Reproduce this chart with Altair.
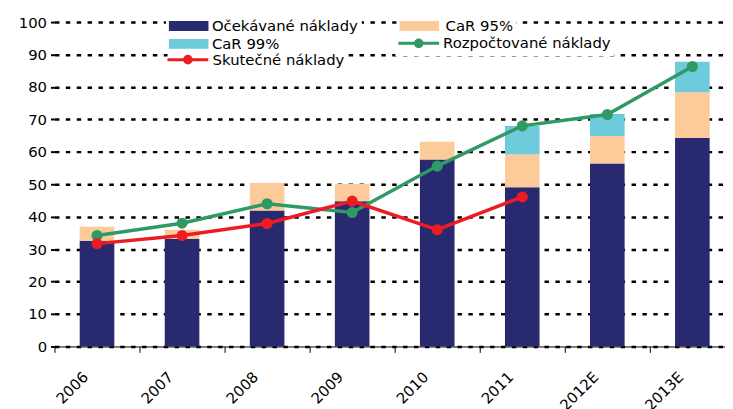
import altair as alt
import pandas as pd

# ---- data ----
years = ["2006", "2007", "2008", "2009", "2010", "2011", "2012E", "2013E"]
expected = [32.6, 33.2, 41.9, 44.8, 57.6, 49.1, 56.4, 64.3]      # Očekávané náklady
car95_top = [36.9, 36.0, 50.4, 50.1, 63.1, 59.2, 64.9, 78.4]     # top of CaR 95% segment
car99_top = [36.9, 36.0, 50.4, 50.1, 63.1, 68.0, 71.7, 87.8]     # top of CaR 99% segment
budget = [34.2, 38.0, 44.0, 41.3, 55.6, 68.0, 71.5, 86.3]        # Rozpočtované náklady
actual_years = ["2006", "2007", "2008", "2009", "2010", "2011"]
actual = [31.7, 34.2, 37.9, 44.8, 36.0, 46.1]                    # Skutečné náklady

names = ["Očekávané náklady", "CaR 95%", "CaR 99%", "Rozpočtované náklady", "Skutečné náklady"]
colors = ["#29296f", "#fdcb99", "#6dcbdc", "#2f9a66", "#ed1c24"]
y_ticks = list(range(0, 101, 10))

FONT = "DejaVu Sans"

seg_expected = pd.DataFrame({"year": years, "start": [0] * len(years), "end": expected, "series": names[0]})
seg_95 = pd.DataFrame({"year": years, "start": expected, "end": car95_top, "series": names[1]})
seg_99 = pd.DataFrame({"year": years, "start": car95_top, "end": car99_top, "series": names[2]})
df_budget = pd.DataFrame({"year": years, "value": budget, "series": names[3]})
df_actual = pd.DataFrame({"year": actual_years, "value": actual, "series": names[4]})

x_axis = alt.Axis(
    title=None, bandPosition=0, domain=True, domainColor="black", domainWidth=1,
    ticks=True, tickColor="black", tickSize=6, tickWidth=1,
    labelAngle=-45, labelAlign="right", labelBaseline="middle",
    labelOffset=-11.5, labelPadding=22, labelFontSize=15, labelFont=FONT,
    labelColor="black", grid=False,
)
y_axis = alt.Axis(
    title=None, values=y_ticks, domain=False, ticks=True, tickColor="black",
    tickSize=4, tickWidth=2, labelPadding=4, labelFontSize=15, labelFont=FONT,
    labelColor="black", grid=True, gridColor="black", gridDash=[4.5, 6.5], gridWidth=2.5,
)
x_enc = alt.X("year:N", sort=years, scale=alt.Scale(domain=years, paddingInner=0, paddingOuter=0), axis=x_axis)
y_scale = alt.Scale(domain=[0, 100], nice=False)

# legend symbols (unit = 7.5 px with symbolSize 225)
RECT = "M-2.667,-0.667H2.667V0.667H-2.667Z"
LINE_DOT = "M-2.75,0H2.75M-0.45,0A0.45,0.45 0 1,1 0.45,0A0.45,0.45 0 1,1 -0.45,0Z"
NB = "\u00a0"


def legend(x, y, path, sw, soff, loff, pad, col=None, fill=True, extra=0):
    kw = dict(
        orient="none", legendX=x, legendY=y, title=None, symbolType=path,
        symbolSize=225, symbolStrokeWidth=sw, symbolOffset=soff, labelOffset=loff,
        labelFontSize=15, labelFont=FONT, labelColor="black", labelLimit=600,
        padding=pad, symbolOpacity=1,
    )
    if fill:
        kw["fillColor"] = "white"
    if extra:
        kw["labelExpr"] = "datum.label + '" + NB * extra + "'"
    if col is not None:
        kw["symbolFillColor"] = col
        kw["symbolStrokeColor"] = col
    return alt.Legend(**kw)


def bar_layer(df, i, leg):
    return alt.Chart(df).mark_bar(size=35).encode(
        x=x_enc,
        y=alt.Y("start:Q", scale=y_scale, axis=y_axis),
        y2="end:Q",
        color=alt.Color("series:N", scale=alt.Scale(domain=[names[i]], range=[colors[i]]), legend=leg),
    )


def line_layer(df, i, leg):
    return alt.Chart(df).mark_line(
        strokeWidth=3.5, point=alt.OverlayMarkDef(filled=True, size=125, opacity=1)
    ).encode(
        x=x_enc,
        y=alt.Y("value:Q", scale=y_scale, axis=y_axis),
        color=alt.Color("series:N", scale=alt.Scale(domain=[names[i]], range=[colors[i]]), legend=leg),
    )


chart = alt.layer(
    bar_layer(seg_expected, 0, legend(112.7, -6.5, RECT, 0, 12.5, 16, 3, extra=13)),
    bar_layer(seg_95, 1, legend(346, -6.5, RECT, 0, 12.5, 19, 3, extra=25)),
    bar_layer(seg_99, 2, legend(112.7, 11.5, RECT, 0, 12.5, 16, 3, fill=False)),
    line_layer(df_budget, 3, legend(344.7, 9.5, LINE_DOT, 3, 11.6, 15.6, 3, col=colors[3], extra=4)),
    line_layer(df_actual, 4, legend(114.3, 29, LINE_DOT, 3, 11.6, 16, 0, col=colors[4], extra=13)),
).resolve_scale(color="independent").properties(
    width=688, height=328,
    autosize=alt.AutoSizeParams(type="none"),
    padding={"left": 47, "top": 12, "right": -10, "bottom": 61},
    background="white",
).configure_view(stroke=None)

chart.save("out.html", embed_options={"renderer": "svg", "actions": False})
